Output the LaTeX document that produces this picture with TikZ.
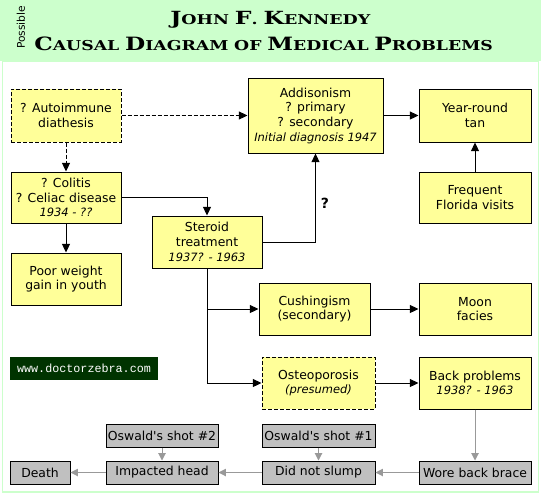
\documentclass[tikz,border=0pt]{standalone}
\usepackage{graphicx}
\usepackage{fontspec}
\setmainfont{DejaVu Sans}
\newfontfamily\titlefont{DejaVu Serif}
\newfontfamily\urlfont{Liberation Mono}
\usetikzlibrary{arrows.meta}
\definecolor{hdr}{HTML}{CCFFCC}
\definecolor{yfill}{HTML}{FFFF99}
\definecolor{gfill}{HTML}{C0C0C0}
\definecolor{garr}{HTML}{999999}
\definecolor{dgreen}{HTML}{003300}
\newcommand{\tbig}[1]{{\fontsize{14}{14}\selectfont #1}}
\newcommand{\tsml}[1]{{\fontsize{10.4}{14}\selectfont #1}}
\newcommand{\yr}[1]{{\fontsize{8.6}{11}\selectfont\itshape #1}}
\newcommand{\placebox}[7]{\node[#1, minimum width={(#4-#2)*0.75pt}, minimum height={(#5-#3)*0.75pt}] (#6) at ({(#2+#4)/2},{(#3+#5)/2}) {#7};}
\tikzset{
  box/.style={draw=black, line width=0.75pt, inner sep=1pt, align=center, font=\fontsize{9.3}{11}\selectfont},
  yb/.style={box, fill=yfill},
  ydash/.style={yb, dash pattern=on 3pt off 1.5pt},
  gb/.style={box, fill=gfill},
  urlbox/.style={fill=dgreen, text=white, inner sep=0pt, font=\urlfont\fontsize{8.8}{10}\selectfont},
  arr/.style={-{Triangle[length=6.5pt,width=6pt]}, line width=0.75pt},
  darr/.style={arr, dash pattern=on 3pt off 1.5pt},
  garrow/.style={-{Triangle[length=5.5pt,width=5.5pt]}, line width=0.75pt, draw=garr},
}
\begin{document}
\begin{tikzpicture}[x=0.75pt, y=-0.75pt]
\useasboundingbox (0,0) rectangle (541,494);
\fill[hdr] (0,0) rectangle (541,61);
\draw[hdr, line width=1pt] (2.5,61) rectangle (538.5,492);
% title
\node[anchor=base west, inner sep=0pt] (t1) at (170,24.5) {\titlefont\bfseries\resizebox{150pt}{9.9pt}{\tbig{J}\tsml{OHN} \tbig{F}\tsml{.} \tbig{K}\tsml{ENNEDY}}};
\node[anchor=base west, inner sep=0pt] (t2) at (34,50) {\titlefont\bfseries\resizebox{344pt}{10.2pt}{\tbig{C}\tsml{AUSAL} \tbig{D}\tsml{IAGRAM} \tsml{OF} \tbig{M}\tsml{EDICAL} \tbig{P}\tsml{ROBLEMS}}};
\node[rotate=90, inner sep=0pt, font=\fontsize{8}{8}\selectfont] (poss) at (21,27.5) {Possible};
% boxes
\placebox{ydash}{11}{89}{121}{142}{autoimm}{? Autoimmune\\diathesis}
\placebox{yb}{11}{172}{121}{223}{colitis}{? Colitis\\? Celiac disease\\\yr{1934 - ??}}
\placebox{yb}{11}{253}{121}{305}{poor}{Poor weight\\gain in youth}
\placebox{yb}{152}{216}{262}{268}{steroid}{Steroid\\treatment\\\yr{1937? - 1963}}
\placebox{yb}{248}{78}{383}{153}{addison}{Addisonism\\? primary\\? secondary\\\yr{Initial diagnosis 1947}}
\placebox{yb}{419}{89}{531}{142}{tan}{Year-round\\tan}
\placebox{yb}{419}{172}{531}{223}{florida}{Frequent\\Florida visits}
\placebox{yb}{259}{283}{370}{335}{cushing}{Cushingism\\(secondary)}
\placebox{yb}{419}{283}{531}{335}{moon}{Moon\\facies}
\placebox{ydash}{262}{357}{375}{409}{osteo}{Osteoporosis\\\yr{(presumed)}}
\placebox{yb}{419}{357}{531}{409}{back}{Back problems\\\yr{1938? - 1963}}
\placebox{gb}{106}{424}{218}{447}{shot2}{Oswald\textquotesingle s shot \#2}
\placebox{gb}{262}{424}{375}{447}{shot1}{Oswald\textquotesingle s shot \#1}
\placebox{gb}{10}{461}{70}{484}{death}{Death}
\placebox{gb}{106}{461}{218}{484}{impacted}{Impacted head}
\placebox{gb}{262}{461}{375}{484}{slump}{Did not slump}
\placebox{gb}{419}{461}{531}{484}{brace}{Wore back brace}
\placebox{urlbox}{10}{357}{158}{380}{url}{www.doctorzebra.com}
% connectors
\draw[darr] (autoimm) -- (addison);
\draw[darr] (autoimm) -- (colitis);
\draw[arr] (colitis.east) -| (steroid.north);
\draw[arr] (colitis) -- (poor);
\draw[arr] (steroid.east) -| (addison.south);
\node[font=\fontsize{10.5}{10}\selectfont\bfseries, inner sep=0pt] (q) at (325,203) {?};
\draw[arr] (addison) -- (tan);
\draw[arr] (florida) -- (tan);
\draw[arr] (steroid.south) |- (osteo.west);
\draw[arr] (steroid.south |- cushing.west) -- (cushing.west);
\draw[arr] (cushing) -- (moon);
\draw[arr] (osteo) -- (back);
\draw[garrow] (back) -- (brace);
\draw[garrow] (brace) -- (slump);
\draw[garrow] (slump) -- (impacted);
\draw[garrow] (impacted) -- (death);
\draw[garrow] (shot1) -- (slump);
\draw[garrow] (shot2) -- (impacted);
\end{tikzpicture}
\end{document}
